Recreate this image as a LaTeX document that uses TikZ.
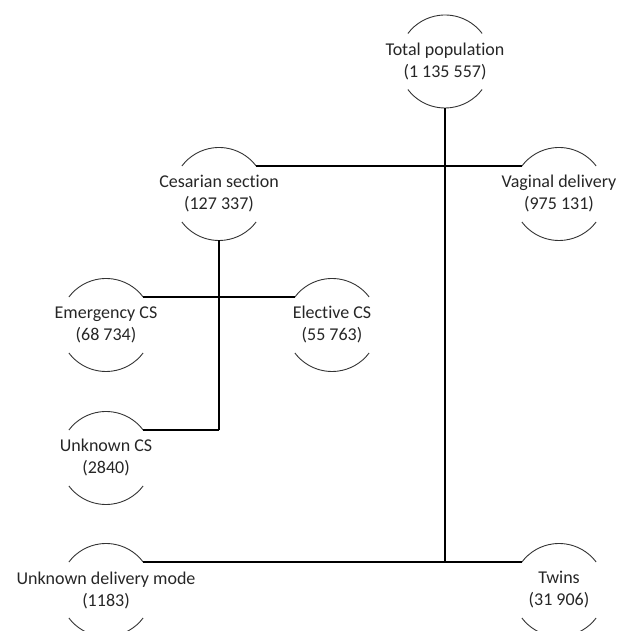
\documentclass[tikz,border=0pt]{standalone}
\usepackage{fontspec}
\setmainfont{Carlito}[Ligatures=NoCommon]
\usetikzlibrary{positioning, calc}

\tikzset{
  lbl/.style={align=center, inner sep=0pt, font=\fontsize{18}{22}\selectfont, text=black!85},
  rim/.style={line width=0.9pt, black!80},
  link/.style={line width=1.1pt},
  trunk/.style={line width=1.8pt},
}
\newcommand{\rr}{46.5pt}

\begin{document}
\begin{tikzpicture}[x=1pt, y=1pt]
		\clip (0,0) rectangle (627,631);
		% groups
		\node[lbl] (tot) at (445,569.5) {Total population\\(1 135 557)};
		\node[lbl] (ces) at (219,437) {Cesarian section\\(127 337)};
		\node[lbl] (vag) at (559,437) {Vaginal delivery\\(975 131)};
		\node[lbl] (emg) at (106,306) {Emergency CS\\(68 734)};
		\node[lbl] (elc) at (332,306) {Elective CS\\(55 763)};
		\node[lbl] (ucs) at (106,173) {Unknown CS\\(2840)};
		\node[lbl] (udm) at (106,41) {Unknown delivery mode\\(1183)};
		\node[lbl] (tw) at (559,41) {Twins\\(31 906)};
		% broken circles
		\foreach \n in {tot,ces,vag,emg,elc,ucs,udm,tw}{
			\coordinate (\n-r) at ([shift={(37:\rr)}]\n.center);
			\coordinate (\n-l) at ([shift={(143:\rr)}]\n.center);
			\coordinate (\n-b) at ([shift={(270:\rr)}]\n.center);
			\draw[rim] (\n-r) arc [start angle=37, end angle=143, radius=\rr];
			\draw[rim] ([shift={(217:\rr)}]\n.center) arc [start angle=217, end angle=323, radius=\rr];
		}
		% links
		\draw[link] (ces-r) -- (vag-l);
		\draw[link] (emg-r) -- (elc-l);
		\draw[link] (udm-r) -- (tw-l);
		\draw[trunk] (tot-b) -- (tot-b |- tw-l);
		\draw[trunk] (ces-b) -- (ces-b |- ucs-r);
		\draw[link] (ces-b |- ucs-r) -- (ucs-r);
\end{tikzpicture}
\end{document}
